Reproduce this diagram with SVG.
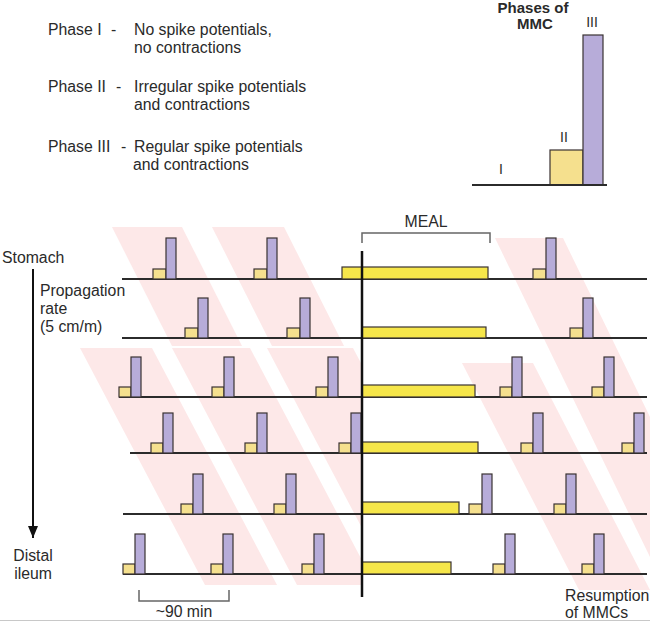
<svg xmlns="http://www.w3.org/2000/svg" width="650" height="621" viewBox="0 0 650 621">
<defs>
<style>
text{font-family:"Liberation Sans",Arial,Helvetica,sans-serif;font-size:15.8px;fill:#2a2a2a}
.b{font-weight:bold;font-size:15px}
.num{font-size:14px;fill:#2a2a2a}
.stripe{fill:#fde8e8}
.base{stroke:#2b2b2b;stroke-width:1.8;fill:none}
.y{fill:#f5e08e;stroke:#3a3232;stroke-width:1.2}
.p{fill:#b7acd9;stroke:#3a3232;stroke-width:1.2}
.meal{fill:#f6e64a;stroke:#3a3232;stroke-width:1.2}
.br{stroke:#666;stroke-width:1.5;fill:none}
</style>
<clipPath id="leftOfMeal"><rect x="0" y="0" width="362" height="621"/></clipPath>
<marker id="ah" markerWidth="12" markerHeight="10" refX="12" refY="5" orient="auto" markerUnits="userSpaceOnUse" viewBox="0 0 12 10">
<path d="M0,0 L12,5 L0,10 Z" fill="#111"/>
</marker>
</defs>
<rect width="650" height="621" fill="#fff"/>

<g id="stripes">
<g clip-path="url(#leftOfMeal)">
<polygon class="stripe" points="112,227 182,227 242,346 172,346"/>
<polygon class="stripe" points="212,227 284,227 344,346 272,346"/>
<polygon class="stripe" points="80,348 152,348 277,585 205,585"/>
<polygon class="stripe" points="172,348 250,348 375,585 297,585"/>
<polygon class="stripe" points="267,348 353,348 478,585 392,585"/>
</g>
<polygon class="stripe" points="495,238 563,238 734,590 666,590"/>
<polygon class="stripe" points="462,363 533,363 650,590 579,590"/>
</g>

<g id="legend">
<text x="48" y="35">Phase I</text><text x="111" y="35">-</text>
<text x="134" y="35">No spike potentials,</text>
<text x="134" y="53">no contractions</text>
<text x="48" y="92">Phase II</text><text x="116" y="92">-</text>
<text x="134" y="92">Irregular spike potentials</text>
<text x="134" y="110">and contractions</text>
<text x="48" y="152">Phase III</text><text x="121" y="152">-</text>
<text x="134" y="152">Regular spike potentials</text>
<text x="133" y="170">and contractions</text>
</g>

<g id="phases-chart">
<text class="b" x="533" y="13" text-anchor="middle">Phases of</text>
<text class="b" x="535" y="29" text-anchor="middle">MMC</text>
<text class="num" x="592" y="27" text-anchor="middle">III</text>
<text class="num" x="564" y="142" text-anchor="middle">II</text>
<text class="num" x="501" y="174" text-anchor="middle">I</text>
<rect class="y" x="550" y="150" width="33" height="35"/>
<rect class="p" x="583" y="35" width="20" height="150"/>
<line class="base" x1="472" y1="185" x2="607" y2="185"/>
</g>

<g id="labels">
<text x="2" y="263">Stomach</text>
<text x="40" y="296">Propagation</text>
<text x="40" y="314">rate</text>
<text x="40" y="332">(5 cm/m)</text>
<text x="33" y="561" text-anchor="middle">Distal</text>
<text x="33" y="579" text-anchor="middle">ileum</text>
<text x="426" y="227" text-anchor="middle">MEAL</text>
<text x="184" y="617" text-anchor="middle">~90 min</text>
<text x="565" y="601">Resumption</text>
<text x="565" y="618">of MMCs</text>
</g>

<g id="connectors">
<line x1="33" y1="269" x2="33" y2="538" stroke="#111" stroke-width="2" marker-end="url(#ah)"/>
<polyline class="br" points="362,243 362,233 490,233 490,243"/>
<polyline class="br" points="139,590 139,601 229,601 229,590"/>
<line x1="0" y1="620.5" x2="650" y2="620.5" stroke="#c8c8c8" stroke-width="1"/>
</g>

<g id="row1">
<line class="base" x1="122" y1="279" x2="647" y2="279"/>
<rect class="y" x="153" y="269" width="13" height="10"/><rect class="p" x="166" y="238" width="10" height="41"/>
<rect class="y" x="254" y="269" width="13" height="10"/><rect class="p" x="267" y="238" width="10" height="41"/>
<rect class="meal" x="342" y="267" width="146" height="12"/>
<rect class="y" x="533" y="269" width="13" height="10"/><rect class="p" x="546" y="238" width="10" height="41"/>
</g>

<g id="row2">
<line class="base" x1="122" y1="338" x2="647" y2="338"/>
<rect class="y" x="185" y="328" width="13" height="10"/><rect class="p" x="198" y="298" width="10" height="40"/>
<rect class="y" x="287" y="328" width="13" height="10"/><rect class="p" x="300" y="298" width="10" height="40"/>
<rect class="meal" x="362" y="327" width="124" height="11"/>
<rect class="y" x="570" y="328" width="13" height="10"/><rect class="p" x="583" y="298" width="10" height="40"/>
</g>

<g id="row3">
<line class="base" x1="119" y1="397" x2="647" y2="397"/>
<rect class="y" x="119" y="387" width="12" height="10"/><rect class="p" x="131" y="357" width="10" height="40"/>
<rect class="y" x="212" y="387" width="12" height="10"/><rect class="p" x="224" y="357" width="10" height="40"/>
<rect class="y" x="316" y="387" width="12" height="10"/><rect class="p" x="328" y="357" width="10" height="40"/>
<rect class="meal" x="362" y="385" width="113" height="12"/>
<rect class="y" x="500" y="387" width="12" height="10"/><rect class="p" x="512" y="357" width="10" height="40"/>
<rect class="y" x="592" y="387" width="12" height="10"/><rect class="p" x="604" y="357" width="10" height="40"/>
</g>

<g id="row4">
<line class="base" x1="130" y1="453" x2="647" y2="453"/>
<rect class="y" x="151" y="443" width="12" height="10"/><rect class="p" x="163" y="413" width="10" height="40"/>
<rect class="y" x="245" y="443" width="12" height="10"/><rect class="p" x="257" y="413" width="10" height="40"/>
<rect class="y" x="339" y="443" width="12" height="10"/><rect class="p" x="351" y="413" width="10" height="40"/>
<rect class="meal" x="362" y="442" width="116" height="11"/>
<rect class="y" x="521" y="443" width="12" height="10"/><rect class="p" x="533" y="413" width="10" height="40"/>
<rect class="y" x="622" y="443" width="12" height="10"/><rect class="p" x="634" y="413" width="10" height="40"/>
</g>

<g id="row5">
<line class="base" x1="123" y1="514" x2="647" y2="514"/>
<rect class="y" x="181" y="504" width="12" height="10"/><rect class="p" x="193" y="474" width="10" height="40"/>
<rect class="y" x="274" y="504" width="12" height="10"/><rect class="p" x="286" y="474" width="10" height="40"/>
<rect class="meal" x="362" y="502" width="97" height="12"/>
<rect class="y" x="469" y="504" width="13" height="10"/><rect class="p" x="482" y="474" width="10" height="40"/>
<rect class="y" x="554" y="504" width="12" height="10"/><rect class="p" x="566" y="474" width="10" height="40"/>
</g>

<g id="row6">
<line class="base" x1="123" y1="574" x2="647" y2="574"/>
<rect class="y" x="123" y="564" width="12" height="10"/><rect class="p" x="135" y="534" width="10" height="40"/>
<rect class="y" x="211" y="564" width="12" height="10"/><rect class="p" x="223" y="534" width="10" height="40"/>
<rect class="y" x="302" y="564" width="12" height="10"/><rect class="p" x="314" y="534" width="10" height="40"/>
<rect class="meal" x="362" y="562" width="89" height="12"/>
<rect class="y" x="493" y="564" width="12" height="10"/><rect class="p" x="505" y="534" width="10" height="40"/>
<rect class="y" x="582" y="564" width="12" height="10"/><rect class="p" x="594" y="534" width="10" height="40"/>
</g>

<g id="meal-line">
<line x1="362" y1="251" x2="362" y2="597" stroke="#111" stroke-width="2.5"/>
</g>
</svg>
